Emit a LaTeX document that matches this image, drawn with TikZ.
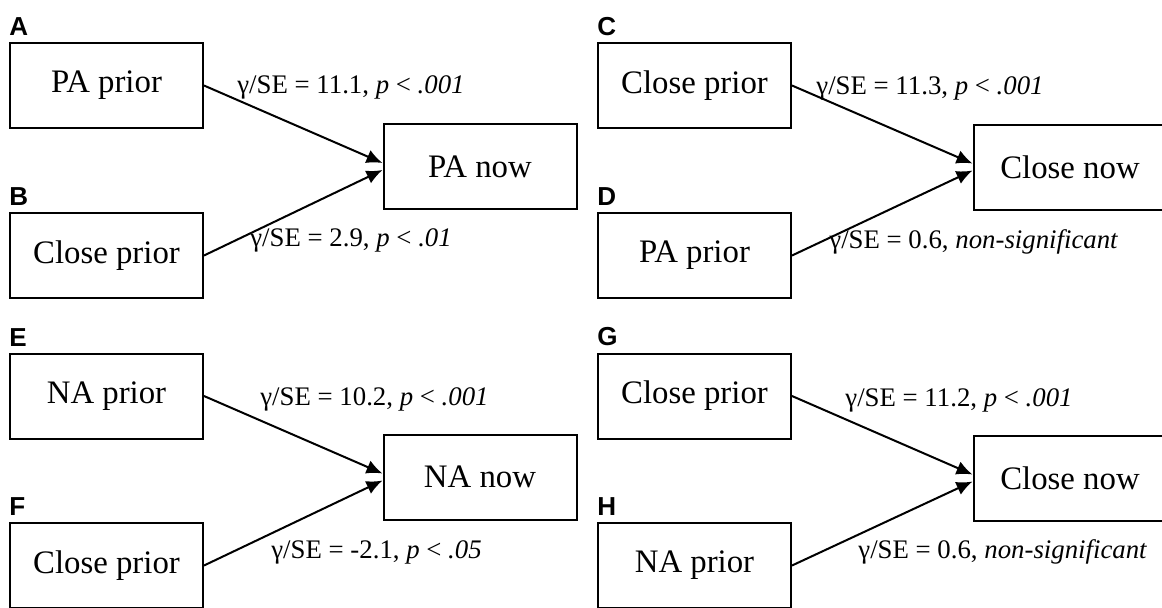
\documentclass[tikz,border=0pt]{standalone}
\usepackage{fontspec}
\setmainfont{Liberation Serif}
\setsansfont{Liberation Sans}
\usetikzlibrary{arrows.meta}

\begin{document}
\begin{tikzpicture}[x=0.5pt, y=-0.5pt,
    box/.style={draw, line width=1pt, minimum width=96.5pt, minimum height=42.5pt,
        inner sep=0pt, font=\fontsize{16.4}{18}\selectfont},
    tag/.style={anchor=south west, inner sep=0pt, font=\sffamily\bfseries\fontsize{13}{14}\selectfont},
    coef/.style={anchor=west, inner sep=0pt, font=\fontsize{13.4}{15}\selectfont},
    effect/.style={line width=1pt, -{Latex[length=8pt, width=7pt]}}]
    \useasboundingbox (0,0) rectangle (1162,607);

    \node[box] (a) at (106.5,85.5) {PA prior};
    \node[box] (b) at (106.5,255.5) {Close prior};
    \node[box] (panow) at (480,166.5) {PA now};
    \node[box] (c) at (694.5,85.5) {Close prior};
    \node[box] (d) at (694.5,255.5) {PA prior};
    \node[box] (closenowa) at (1070,167) {Close now};

    \node[box] (e) at (106.5,396) {NA prior};
    \node[box] (f) at (106.5,565.5) {Close prior};
    \node[box] (nanow) at (480,477) {NA now};
    \node[box] (g) at (694.5,396) {Close prior};
    \node[box] (h) at (694.5,565.5) {NA prior};
    \node[box] (closenowb) at (1070,478) {Close now};

    \node[tag] (taga) at ([yshift=3pt]a.north west) {A};
    \node[tag] (tagb) at ([yshift=3pt]b.north west) {B};
    \node[tag] (tagc) at ([yshift=3pt]c.north west) {C};
    \node[tag] (tagd) at ([yshift=3pt]d.north west) {D};
    \node[tag] (tage) at ([yshift=3pt]e.north west) {E};
    \node[tag] (tagf) at ([yshift=3pt]f.north west) {F};
    \node[tag] (tagg) at ([yshift=3pt]g.north west) {G};
    \node[tag] (tagh) at ([yshift=3pt]h.north west) {H};

    \draw[effect] (a.east) -- ([yshift=1.75pt]panow.west);
    \draw[effect] (b.east) -- ([yshift=-1.75pt]panow.west);
    \draw[effect] (c.east) -- ([yshift=1.75pt]closenowa.west);
    \draw[effect] (d.east) -- ([yshift=-1.75pt]closenowa.west);
    \draw[effect] (e.east) -- ([yshift=1.75pt]nanow.west);
    \draw[effect] (f.east) -- ([yshift=-1.75pt]nanow.west);
    \draw[effect] (g.east) -- ([yshift=1.75pt]closenowb.west);
    \draw[effect] (h.east) -- ([yshift=-1.75pt]closenowb.west);

    \node[coef] (coefa) at (237,87) {γ/SE = 11.1, \textit{p} < \textit{.001}};
    \node[coef] (coefb) at (250,240) {γ/SE = 2.9, \textit{p} < \textit{.01}};
    \node[coef] (coefc) at (816,88) {γ/SE = 11.3, \textit{p} < \textit{.001}};
    \node[coef] (coefd) at (829,242) {γ/SE = 0.6, \textit{non-significant}};
    \node[coef] (coefe) at (260,399) {γ/SE = 10.2, \textit{p} < \textit{.001}};
    \node[coef] (coeff) at (271,552) {γ/SE = -2.1, \textit{p} < \textit{.05}};
    \node[coef] (coefg) at (845,400) {γ/SE = 11.2, \textit{p} < \textit{.001}};
    \node[coef] (coefh) at (858,552) {γ/SE = 0.6, \textit{non-significant}};
\end{tikzpicture}
\end{document}
